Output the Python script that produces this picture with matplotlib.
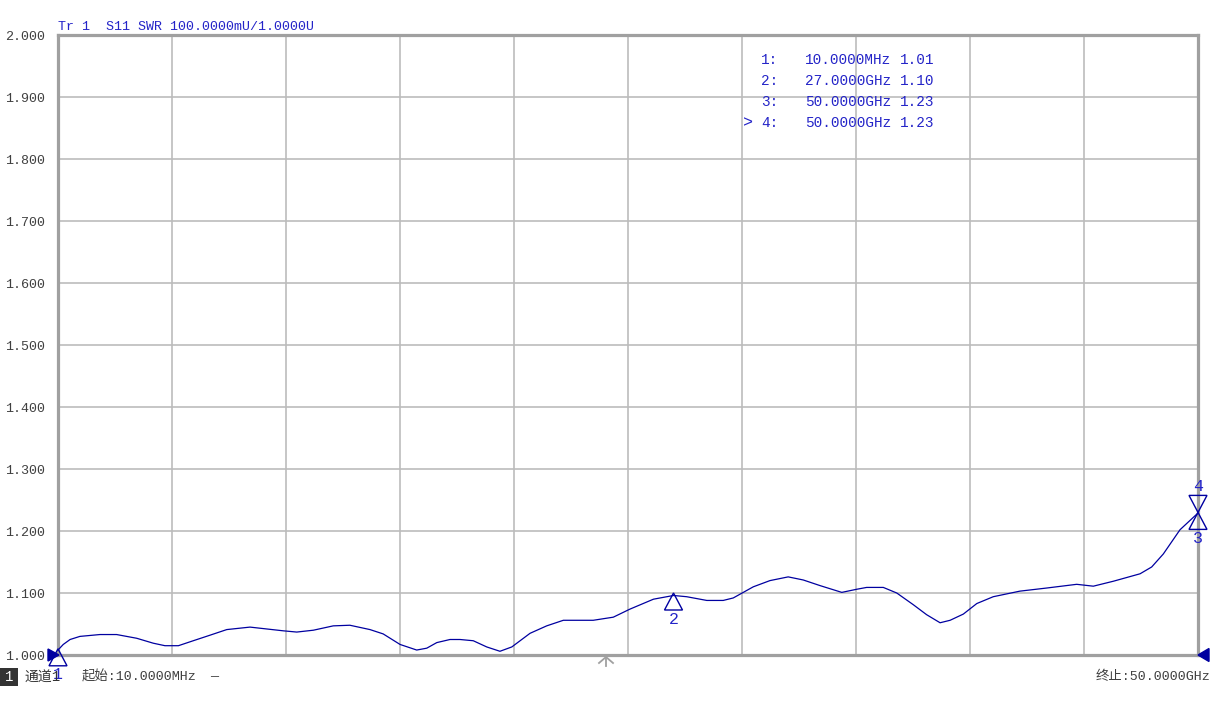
import matplotlib
matplotlib.use('Agg')
import matplotlib.pyplot as plt
from matplotlib.patches import Polygon, Rectangle
from matplotlib.transforms import ScaledTranslation
import numpy as np

# ---- data ----
freq_ghz = [0.01, 0.24, 0.54, 0.97, 1.85, 2.58, 3.46, 4.19, 4.70, 5.29, 5.94, 6.68,
            7.41, 8.43, 9.16, 9.89, 10.48, 11.21, 12.08, 12.81, 13.69, 14.27, 15.01,
            15.74, 16.18, 16.62, 17.20, 17.64, 18.22, 18.81, 19.39, 19.91, 20.71,
            21.44, 22.17, 23.48, 24.36, 25.09, 26.12, 27.00, 27.58, 28.46, 29.18,
            29.62, 30.50, 31.23, 32.03, 32.69, 33.42, 34.38, 35.03, 35.47, 36.20,
            36.79, 37.52, 38.10, 38.69, 39.13, 39.71, 40.30, 41.02, 42.19, 43.36,
            44.68, 45.41, 46.29, 47.46, 47.97, 48.48, 49.21, 50.00]
swr = [1.008, 1.017, 1.025, 1.030, 1.033, 1.033, 1.027, 1.019, 1.015, 1.015, 1.023, 1.032,
       1.041, 1.045, 1.042, 1.039, 1.037, 1.040, 1.047, 1.048, 1.041, 1.034, 1.017,
       1.008, 1.011, 1.020, 1.025, 1.025, 1.023, 1.013, 1.006, 1.013, 1.035,
       1.047, 1.056, 1.056, 1.061, 1.074, 1.090, 1.096, 1.094, 1.088, 1.088,
       1.092, 1.110, 1.120, 1.126, 1.121, 1.112, 1.101, 1.106, 1.109, 1.109,
       1.100, 1.081, 1.065, 1.052, 1.056, 1.066, 1.083, 1.094, 1.103, 1.108,
       1.114, 1.111, 1.119, 1.131, 1.142, 1.163, 1.202, 1.229]
y_ticks = [1.0, 1.1, 1.2, 1.3, 1.4, 1.5, 1.6, 1.7, 1.8, 1.9, 2.0]
start_ghz = 0.01
stop_ghz = 50.0
marker_ids = ['1', '2', '3', '4']
marker_freq = [0.01, 27.0, 50.0, 50.0]
marker_swr = [1.01, 1.10, 1.23, 1.23]
marker_up = [True, True, True, False]
marker_freq_text = ['10.0000MHz', '27.0000GHz', '50.0000GHz', '50.0000GHz']
marker_val_text = ['1.01', '1.10', '1.23', '1.23']
active_marker = '4'
title = 'Tr 1  S11 SWR 100.0000mU/1.0000U'
channel_label = '通道1'
start_label = '起始:10.0000MHz'
stop_label = '终止:50.0000GHz'

W, H = 1221, 704
FAM = ['Liberation Mono', 'Noto Sans CJK SC', 'DejaVu Sans']
BLUE = '#0000a0'
TXTBLUE = '#2424c8'

def fx(x):
    return x / W

def fy(y):
    return 1 - y / H

fig = plt.figure(figsize=(W / 100, H / 100), dpi=100)
ax = fig.add_axes([58 / W, 49 / H, 1140 / W, 620 / H])
ax.set_xlim(start_ghz, stop_ghz)
ax.set_ylim(y_ticks[0], y_ticks[-1])
ax.set_xticks(np.linspace(start_ghz, stop_ghz, 11))
ax.set_xticklabels([])
ax.set_yticks(y_ticks)
ax.set_yticklabels([f'{v:.3f}' for v in y_ticks])
ax.tick_params(length=0, pad=9, labelcolor='#404040', labelsize=9.6)
for lab in ax.get_yticklabels():
    lab.set_family(FAM)
ax.grid(True, color='#bcbcbc', lw=1.2)
ax.set_axisbelow(True)
for s in ax.spines.values():
    s.set_color('#a0a0a0')
    s.set_linewidth(2.3)

ax.plot(freq_ghz, swr, color=BLUE, lw=0.9, clip_on=False, zorder=5)

# marker triangles
def offset_trans(xd, yd):
    return fig.dpi_scale_trans + ScaledTranslation(xd, yd, ax.transData)

h, w = 17 / 100, 9 / 100
for mid, f, v, up in zip(marker_ids, marker_freq, marker_swr, marker_up):
    tr = offset_trans(f, v)
    sgn = -1 if up else 1
    verts = [(0, 0), (-w, sgn * h), (w, sgn * h)]
    ax.add_patch(Polygon(verts, closed=True, fill=False, edgecolor=BLUE, lw=1.0,
                         transform=tr, clip_on=False, zorder=6))
    ax.text(0, sgn * 0.26, mid, transform=tr, ha='center', va='center',
            fontsize=12, color=TXTBLUE, family=FAM, zorder=7, clip_on=False)

# reference level triangles
trL = offset_trans(start_ghz, y_ticks[0])
ax.add_patch(Polygon([(-0.10, 0.06), (-0.10, -0.06), (0.01, 0)], closed=True,
                     facecolor=BLUE, edgecolor=BLUE, transform=trL, clip_on=False, zorder=6))
trR = offset_trans(stop_ghz, y_ticks[0])
ax.add_patch(Polygon([(0.0, 0), (0.11, 0.065), (0.11, -0.065)], closed=True,
                     facecolor=BLUE, edgecolor=BLUE, transform=trR, clip_on=False, zorder=6))

# gray pointer arrow below axis
trA = fig.dpi_scale_trans + ScaledTranslation((606 - 58) / 1140, 0, ax.transAxes)
ax.plot([0, 0], [-0.02, -0.11], color='#a0a0a0', lw=1.3, transform=trA, clip_on=False)
ax.plot([-0.07, 0, 0.07], [-0.08, -0.02, -0.08], color='#a0a0a0', lw=1.3,
        transform=trA, clip_on=False)

# title
fig.text(fx(58), fy(27), title, color=TXTBLUE, fontsize=9.6, family=FAM,
         ha='left', va='center')

# marker table
row_y = [60, 81, 102, 123]
for i, (mid, ft, vt) in enumerate(zip(marker_ids, marker_freq_text, marker_val_text)):
    y = row_y[i]
    fig.text(fx(778), fy(y), mid + ':', color=TXTBLUE, fontsize=10.4, family=FAM,
             ha='right', va='center')
    fig.text(fx(805), fy(y), ft, color=TXTBLUE, fontsize=10.4, family=FAM,
             ha='left', va='center')
    fig.text(fx(900), fy(y), vt, color=TXTBLUE, fontsize=10.4, family=FAM,
             ha='left', va='center')
    if mid == active_marker:
        fig.text(fx(743), fy(y), '>', color=TXTBLUE, fontsize=12, family=FAM,
                 ha='left', va='center')

# bottom status line
fig.patches.append(Rectangle((0, fy(686)), fx(18), 18 / H, transform=fig.transFigure,
                             facecolor='#333333', edgecolor='none', figure=fig))
fig.text(fx(9), fy(677), '1', color='white', fontsize=10, family=FAM,
         ha='center', va='center')
fig.text(fx(25), fy(677), channel_label, color='#333333', fontsize=10, family=FAM,
         ha='left', va='center')
fig.text(fx(82), fy(677), start_label, color='#404040', fontsize=9.6, family=FAM,
         ha='left', va='center')
fig.text(fx(210), fy(677), '—', color='#404040', fontsize=9.6, family=FAM,
         ha='left', va='center')
fig.text(fx(1210), fy(677), stop_label, color='#404040', fontsize=9.6, family=FAM,
         ha='right', va='center')

fig.savefig('out.png', dpi=100, facecolor='white')
